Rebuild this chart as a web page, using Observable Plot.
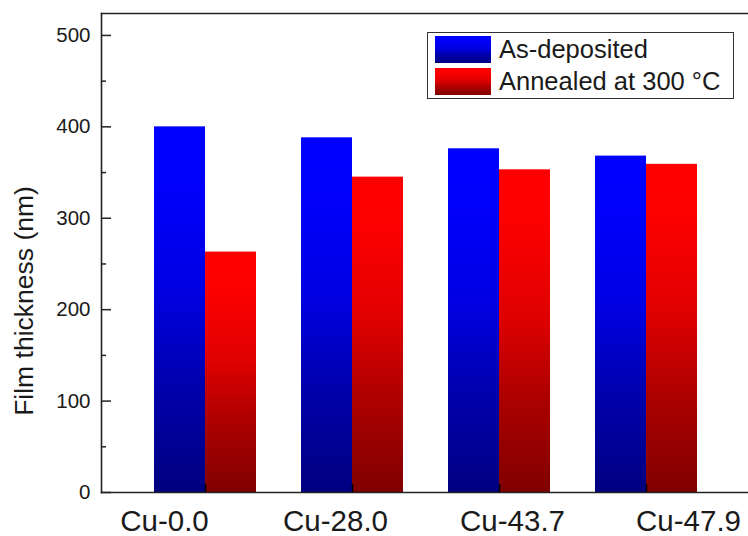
<!DOCTYPE html>
<html>
<head>
<meta charset="utf-8">
<script src="https://cdn.jsdelivr.net/npm/d3@7"></script>
<script src="https://cdn.jsdelivr.net/npm/@observablehq/plot@0.6"></script>
<style>
  html, body { margin: 0; padding: 0; background: white; }
  #wrap { position: relative; width: 748px; height: 536px; overflow: hidden; font-family: "Liberation Sans", Arial, sans-serif; color: #1a1a1a; }
  #wrap svg { max-width: none !important; }
  #legend { position: absolute; left: 427px; top: 32px; width: 305px; height: 65px; border: 1.5px solid #333; background: white; }
  .row { position: absolute; left: 7px; height: 27px; display: flex; align-items: center; }
  .sw { width: 56px; height: 27px; margin-right: 8px; }
  .lbl { font-size: 25.5px; line-height: 27px; white-space: nowrap; }
</style>
</head>
<body>
<div id="wrap"></div>
<script>
// ---- data ----
const categories = ["Cu-0.0", "Cu-28.0", "Cu-43.7", "Cu-47.9"];
const asDeposited = [400, 388, 376, 368];
const annealed = [263, 345, 353, 359];
const seriesNames = ["As-deposited", "Annealed at 300 °C"];
const yTicks = [0, 100, 200, 300, 400, 500];
const yMinorTicks = [50, 150, 250, 350, 450];
const yTitle = "Film thickness (nm)";

// ---- style / layout constants ----
const labelOffsets = [-41, -17, 13, 42];
const frameColor = "#222";
const font = "'Liberation Sans', Arial, sans-serif";

const rowsA = categories.map((c, i) => ({category: c, series: seriesNames[0], value: asDeposited[i]}));
const rowsB = categories.map((c, i) => ({category: c, series: seriesNames[1], value: annealed[i]}));

function build(half) {
  return Plot.plot({
    width: 752,
    height: 536,
    marginLeft: 101,
    marginRight: 1,
    marginTop: 13,
    marginBottom: 44,
    style: {fontFamily: font, color: "#1a1a1a", background: "white", maxWidth: "none"},
    x: {domain: categories, paddingInner: 0.304, paddingOuter: 0.35, axis: null},
    y: {domain: [0, 524], axis: null},
    marks: [
      Plot.barY(rowsA, {x: "category", y: "value", fill: "url(#gradBlue)", insetRight: half}),
      Plot.barY(rowsB, {x: "category", y: "value", fill: "url(#gradRed)", insetLeft: half}),
      Plot.frame({anchor: "left", stroke: frameColor, strokeWidth: 1.6}),
      Plot.frame({anchor: "top", stroke: frameColor, strokeWidth: 1.6}),
      Plot.frame({anchor: "bottom", stroke: frameColor, strokeWidth: 1.6}),
      // inward major / minor ticks on y
      Plot.axisY({ticks: yTicks, tickSize: 10, insetLeft: 10, tickFormat: () => "", label: null, stroke: frameColor, strokeWidth: 1.5}),
      Plot.axisY({ticks: yMinorTicks, tickSize: 5, insetLeft: 5, tickFormat: () => "", label: null, stroke: frameColor, strokeWidth: 1.5}),
      // y tick labels
      Plot.axisY({ticks: yTicks, tickSize: 0, tickPadding: 11, fontSize: 20.5, label: null}),
      // inward ticks on x
      Plot.axisX({ticks: categories, tickSize: 8, insetBottom: 8, tickFormat: () => "", label: null, stroke: "#000", strokeWidth: 1.5}),
      // x labels (individually offset as in the reference)
      ...categories.map((c, i) => Plot.axisX({ticks: [c], tickSize: 0, tickPadding: 18, fontSize: 29.5, dx: labelOffsets[i], label: null})),
      // y title
      Plot.text([yTitle], {frameAnchor: "left", textAnchor: "middle", lineAnchor: "middle", rotate: -90, dx: -77, dy: 48, fontSize: 26.5, fill: "#1a1a1a"})
    ]
  });
}

const first = build(0);
const bw = first.scale("x").bandwidth;
const chart = build(bw / 2);

// gradients for the bars
const svg = d3.select(chart.tagName.toLowerCase() === "svg" ? chart : chart.querySelector("svg"));
const defs = svg.insert("defs", ":first-child");
function grad(id, stops) {
  const g = defs.append("linearGradient").attr("id", id).attr("x1", 0).attr("y1", 0).attr("x2", 0).attr("y2", 1);
  stops.forEach(([o, c]) => g.append("stop").attr("offset", o).attr("stop-color", c));
}
grad("gradBlue", [["0%", "#0000ff"], ["15%", "#0000fd"], ["45%", "#0000e2"], ["70%", "#0000ae"], ["100%", "#000080"]]);
grad("gradRed", [["0%", "#ff0000"], ["15%", "#fd0000"], ["45%", "#e00000"], ["70%", "#ae0000"], ["100%", "#800000"]]);

const wrap = document.getElementById("wrap");
wrap.appendChild(chart);

// legend
const legend = document.createElement("div");
legend.id = "legend";
const swatchCss = [
  "linear-gradient(to bottom, #0000ff 0%, #0000fd 15%, #0000e2 45%, #0000ae 70%, #000080 100%)",
  "linear-gradient(to bottom, #ff0000 0%, #fd0000 15%, #e00000 45%, #ae0000 70%, #800000 100%)"
];
seriesNames.forEach((name, i) => {
  const row = document.createElement("div");
  row.className = "row";
  row.style.top = (3 + i * 32) + "px";
  const sw = document.createElement("div");
  sw.className = "sw";
  sw.style.background = swatchCss[i];
  const lb = document.createElement("span");
  lb.className = "lbl";
  lb.textContent = name;
  row.appendChild(sw);
  row.appendChild(lb);
  legend.appendChild(row);
});
wrap.appendChild(legend);
</script>
</body>
</html>
